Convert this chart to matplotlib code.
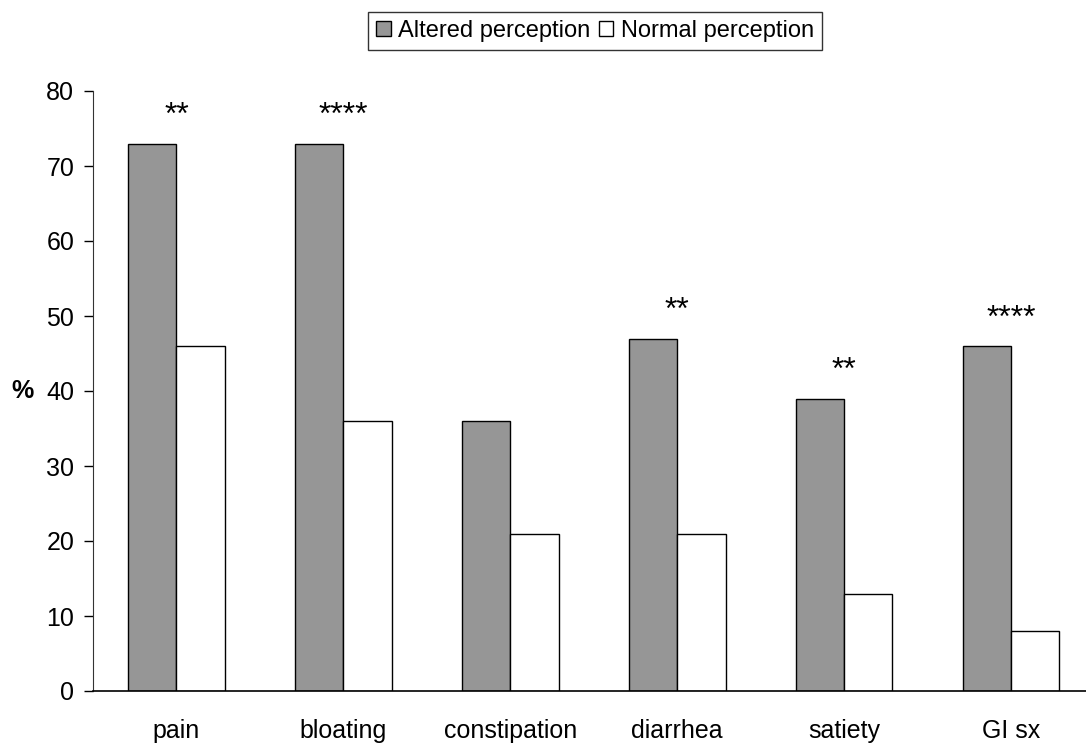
import matplotlib.pyplot as plt
import numpy as np

plt.rcParams['font.family'] = ['Liberation Sans', 'DejaVu Sans']

categories = ["pain", "bloating", "constipation", "diarrhea", "satiety", "GI sx"]
altered = [73, 73, 36, 47, 39, 46]
normal = [46, 36, 21, 21, 13, 8]
stars = ["**", "****", "", "**", "**", "****"]

x = np.arange(len(categories))
w = 0.29

fig = plt.figure(figsize=(10.86, 7.47), dpi=100)
ax = fig.add_axes([93 / 1086, 56 / 747, 993 / 1086, 600 / 747])

b1 = ax.bar(x - w / 2, altered, w, color="#969696", edgecolor="black", linewidth=1, label="Altered perception")
b2 = ax.bar(x + w / 2, normal, w, color="white", edgecolor="black", linewidth=1, label="Normal perception")

# significance stars above each pair
for xi, val, s in zip(x, altered, stars):
    if s:
        ax.text(xi, val + 2.6, s, ha="center", va="baseline", fontsize=23)

ax.set_xlim(-0.5, 5.45)
ax.set_ylim(0, 80)
ax.set_yticks(range(0, 81, 10))
ax.set_xticks(x)
ax.set_xticklabels(categories)
ax.tick_params(axis="x", length=0, pad=20, labelsize=18)
ax.tick_params(axis="y", direction="out", length=6.5, width=1, labelsize=18, pad=7)

ax.spines["top"].set_visible(False)
ax.spines["right"].set_visible(False)
ax.spines["left"].set_color("#333333")
ax.spines["bottom"].set_color("black")
ax.spines["bottom"].set_linewidth(1.2)

ax.set_ylabel("%", rotation=0, fontsize=18, fontweight="bold", ha="center", va="center")
ax.yaxis.set_label_coords(-0.0705, 0.5)

leg = fig.legend(handles=[b1, b2], loc="center", bbox_to_anchor=(595 / 1086, 1 - 31 / 747),
                 ncol=2, fontsize=17, frameon=True, fancybox=False, edgecolor="black",
                 handlelength=0.6, handleheight=0.6, handletextpad=0.3, columnspacing=0.4,
                 borderpad=0.35, borderaxespad=0)
leg.get_frame().set_linewidth(1)

fig.savefig("out.png", dpi=100)
